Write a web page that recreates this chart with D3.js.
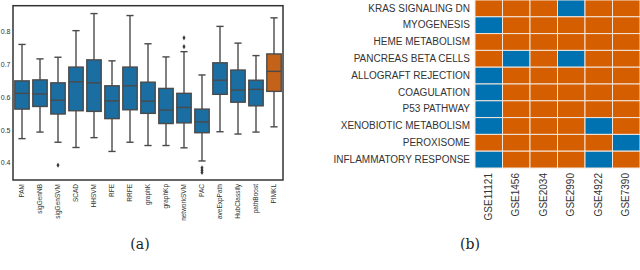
<!DOCTYPE html>
<html>
<head>
<meta charset="utf-8">
<script src="https://cdn.jsdelivr.net/npm/d3@7"></script>
<style>
  body { margin: 0; background: #fff; }
  svg { display: block; }
</style>
</head>
<body>
<div id="chart"></div>
<script>
// box plot (a): one row per method
var methods = ["PAM", "sigGenNB", "sigGenSVM", "SCAD", "HHSVM", "RFE", "RRFE", "graphK", "graphKp",
    "networkSVM", "PAC", "aveExpPath", "HubClassify", "pathBoost", "PIMKL"];
var whiskLow  = [0.473, 0.493, 0.462, 0.446, 0.476, 0.434, 0.462, 0.452, 0.452, 0.445, 0.405, 0.494, 0.487, 0.493, 0.509];
var q1        = [0.563, 0.571, 0.548, 0.558, 0.556, 0.534, 0.561, 0.550, 0.519, 0.521, 0.491, 0.608, 0.584, 0.573, 0.617];
var medians   = [0.611, 0.609, 0.590, 0.646, 0.643, 0.588, 0.634, 0.587, 0.560, 0.568, 0.524, 0.651, 0.621, 0.623, 0.678];
var q3        = [0.649, 0.652, 0.643, 0.691, 0.713, 0.634, 0.691, 0.645, 0.626, 0.611, 0.563, 0.704, 0.682, 0.651, 0.731];
var whiskHigh = [0.760, 0.716, 0.721, 0.802, 0.854, 0.710, 0.848, 0.762, 0.722, 0.738, 0.667, 0.815, 0.764, 0.726, 0.841];
var outliers  = [[], [], [0.392], [], [], [], [], [], [], [0.780, 0.753], [0.384, 0.377, 0.370], [], [], [], []];
var yTicks = [0.4, 0.5, 0.6, 0.7, 0.8];

// heatmap (b)
var pathways = ["KRAS SIGNALING DN", "MYOGENESIS", "HEME METABOLISM", "PANCREAS BETA CELLS", "ALLOGRAFT REJECTION",
    "COAGULATION", "P53 PATHWAY", "XENOBIOTIC METABOLISM", "PEROXISOME", "INFLAMMATORY RESPONSE"];
var datasets = ["GSE11121", "GSE1456", "GSE2034", "GSE2990", "GSE4922", "GSE7390"];
var hits = [
    [0, 0, 0, 1, 0, 0],
    [1, 0, 0, 0, 0, 0],
    [0, 0, 0, 0, 0, 0],
    [0, 1, 0, 1, 0, 0],
    [1, 0, 0, 0, 0, 0],
    [1, 0, 0, 0, 0, 0],
    [1, 0, 0, 0, 0, 0],
    [1, 0, 0, 0, 1, 0],
    [0, 0, 0, 0, 0, 1],
    [1, 0, 0, 0, 1, 0]
];

var svg = d3.select("#chart").append("svg").attr("width", 640).attr("height", 270);

// ---- (a) boxplot
var x = d3.scaleBand().domain(methods).range([13, 283]).paddingInner(0.2).paddingOuter(0.1);
var y = d3.scaleLinear().domain([0.347, 0.878]).range([180, 5.7]);
var boxes = methods.map(function(m, i) {
    return {name: m, lo: whiskLow[i], q1: q1[i], med: medians[i], q3: q3[i], hi: whiskHigh[i], out: outliers[i]};
});

var yAxis = svg.append("g").attr("transform", "translate(13,0)")
    .call(d3.axisLeft(y).tickValues(yTicks).tickSize(0).tickPadding(2.5).tickFormat(d3.format(".1f")));
yAxis.select(".domain").remove();
yAxis.selectAll("text").attr("font-family", "Liberation Sans, Arial, sans-serif").attr("font-size", 7).attr("fill", "#333");

var xAxis = svg.append("g").attr("transform", "translate(0,180)")
    .call(d3.axisBottom(x).tickSize(0));
xAxis.select(".domain").remove();
xAxis.selectAll("text")
    .attr("font-family", "Liberation Sans, Arial, sans-serif").attr("font-size", 6.5).attr("fill", "#333")
    .attr("transform", "rotate(-90)")
    .attr("text-anchor", "end")
    .attr("x", -4).attr("y", 0).attr("dy", "0.32em");

var grey = "#4a4a4a";
var g = svg.append("g").selectAll("g").data(boxes).enter().append("g")
    .attr("transform", function(d) { return "translate(" + (x(d.name) + x.bandwidth() / 2) + ",0)"; });
var bw = x.bandwidth(), cap = bw / 2;
g.append("line").attr("x1", 0).attr("x2", 0)
    .attr("y1", function(d) { return y(d.lo); }).attr("y2", function(d) { return y(d.q1); })
    .attr("stroke", grey).attr("stroke-width", 1.4);
g.append("line").attr("x1", 0).attr("x2", 0)
    .attr("y1", function(d) { return y(d.q3); }).attr("y2", function(d) { return y(d.hi); })
    .attr("stroke", grey).attr("stroke-width", 1.4);
g.append("line").attr("x1", -cap / 2).attr("x2", cap / 2)
    .attr("y1", function(d) { return y(d.lo); }).attr("y2", function(d) { return y(d.lo); })
    .attr("stroke", grey).attr("stroke-width", 1.4);
g.append("line").attr("x1", -cap / 2).attr("x2", cap / 2)
    .attr("y1", function(d) { return y(d.hi); }).attr("y2", function(d) { return y(d.hi); })
    .attr("stroke", grey).attr("stroke-width", 1.4);
g.append("rect").attr("x", -bw / 2).attr("width", bw)
    .attr("y", function(d) { return y(d.q3); })
    .attr("height", function(d) { return y(d.q1) - y(d.q3); })
    .attr("fill", function(d) { return d.name == "PIMKL" ? "#c4621a" : "#1a6ea1"; })
    .attr("stroke", grey).attr("stroke-width", 1.4);
g.append("line").attr("x1", -bw / 2).attr("x2", bw / 2)
    .attr("y1", function(d) { return y(d.med); }).attr("y2", function(d) { return y(d.med); })
    .attr("stroke", grey).attr("stroke-width", 1.4);
g.selectAll("path").data(function(d) { return d.out; }).enter().append("path")
    .attr("d", d3.symbol().type(d3.symbolDiamond).size(8))
    .attr("transform", function(v) { return "translate(0," + y(v) + ")"; })
    .attr("fill", "#3a3a3a");

svg.append("rect").attr("x", 13).attr("y", 5.7).attr("width", 270).attr("height", 174.3)
    .attr("fill", "none").attr("stroke", "#333").attr("stroke-width", 1.5);

// ---- (b) heatmap
var hx = d3.scaleBand().domain(datasets).range([475, 640]);
var hy = d3.scaleBand().domain(pathways).range([0, 168]);
var cells = [];
pathways.forEach(function(p, i) {
    datasets.forEach(function(s, j) { cells.push({p: p, s: s, v: hits[i][j]}); });
});
svg.append("g").selectAll("rect").data(cells).enter().append("rect")
    .attr("x", function(d) { return hx(d.s); })
    .attr("y", function(d) { return hy(d.p); })
    .attr("width", hx.bandwidth()).attr("height", hy.bandwidth())
    .attr("fill", function(d) { return d.v ? "#0072b2" : "#d55e00"; })
    .attr("stroke", "#f3e6dc").attr("stroke-width", 1);

var ry = svg.append("g").attr("transform", "translate(475,0)")
    .call(d3.axisLeft(hy).tickSize(0).tickPadding(5));
ry.select(".domain").remove();
ry.selectAll("text").attr("font-family", "Liberation Sans, Arial, sans-serif").attr("font-size", 10).attr("fill", "#333");

var cx = svg.append("g").attr("transform", "translate(0,168)")
    .call(d3.axisBottom(hx).tickSize(0));
cx.select(".domain").remove();
cx.selectAll("text")
    .attr("font-family", "Liberation Sans, Arial, sans-serif").attr("font-size", 10).attr("fill", "#333")
    .attr("transform", "rotate(-90)")
    .attr("text-anchor", "end")
    .attr("x", -5).attr("y", 0).attr("dy", "0.32em");

// captions
svg.append("text").attr("x", 140).attr("y", 249).attr("text-anchor", "middle")
    .attr("font-family", "DejaVu Serif, Liberation Serif, serif").attr("font-size", 14).attr("fill", "#222").text("(a)");
svg.append("text").attr("x", 470).attr("y", 249).attr("text-anchor", "middle")
    .attr("font-family", "DejaVu Serif, Liberation Serif, serif").attr("font-size", 14).attr("fill", "#222").text("(b)");
</script>
</body>
</html>
